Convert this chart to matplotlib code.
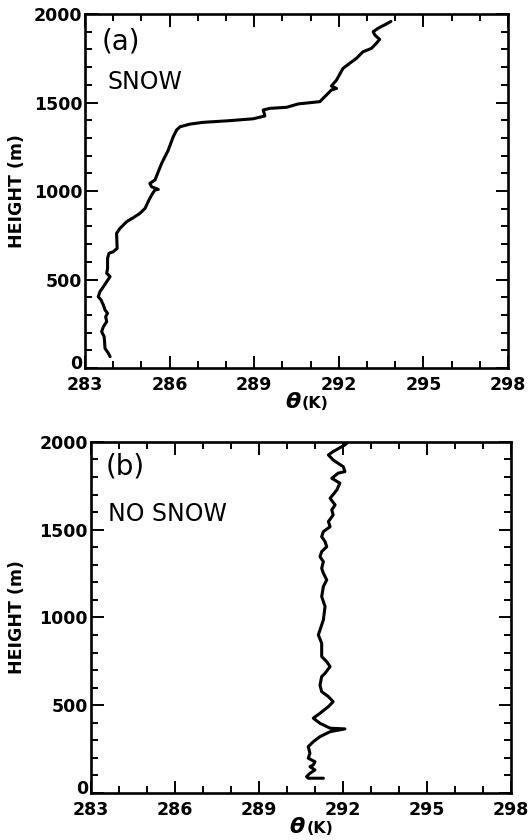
import matplotlib
matplotlib.use("Agg")
import matplotlib.pyplot as plt
from matplotlib.ticker import MultipleLocator
from matplotlib.transforms import ScaledTranslation

# Potential temperature profiles (K) against height (m)
theta_snow = [283.89, 283.83, 283.71, 283.68, 283.59, 283.65, 283.77, 283.73, 283.80, 283.71,
              283.65, 283.57, 283.47, 283.53, 283.65, 283.77, 283.89, 283.77, 283.80, 283.80,
              283.85, 284.00, 284.14, 284.12, 284.24, 284.48, 284.71, 284.95, 285.13, 285.24,
              285.36, 285.48, 285.60, 285.36, 285.30, 285.48, 285.72, 285.95, 286.13, 286.25,
              286.37, 286.72, 287.19, 288.08, 288.96, 289.38, 289.32, 289.56, 290.15, 290.56,
              291.33, 291.56, 291.74, 291.92, 291.74, 291.92, 292.15, 292.39, 292.63, 292.86,
              293.16, 293.33, 293.45, 293.28, 293.22, 293.39, 293.69, 293.85]
height_snow = [64, 83, 111, 177, 205, 233, 262, 290, 309, 328,
               356, 384, 403, 431, 459, 488, 516, 535, 563, 620,
               648, 657, 676, 761, 789, 827, 849, 874, 902, 940,
               977, 1006, 1009, 1024, 1043, 1062, 1157, 1230, 1307, 1345,
               1363, 1378, 1388, 1397, 1408, 1424, 1458, 1467, 1473, 1492,
               1505, 1542, 1571, 1580, 1593, 1627, 1693, 1722, 1750, 1787,
               1806, 1834, 1857, 1881, 1900, 1919, 1944, 1958]

theta_nosnow = [291.31, 290.77, 290.71, 290.83, 291.01, 290.83, 290.95, 291.01, 290.77, 290.83,
                290.77, 290.95, 291.19, 291.55, 292.08, 291.55, 291.19, 290.95, 291.19, 291.49,
                291.66, 291.49, 291.25, 291.19, 291.25, 291.37, 291.55, 291.43, 291.25, 291.25,
                291.13, 291.31, 291.37, 291.25, 291.31, 291.43, 291.31, 291.25, 291.31, 291.19,
                291.25, 291.43, 291.37, 291.25, 291.31, 291.55, 291.49, 291.66, 291.61, 291.73,
                291.55, 291.79, 291.90, 291.61, 291.84, 292.08, 292.02, 291.66, 291.49, 291.66,
                292.08, 292.20]
height_nosnow = [84, 84, 93, 112, 131, 150, 160, 178, 198, 226,
                 264, 292, 321, 349, 365, 369, 397, 426, 454, 492,
                 520, 549, 577, 615, 663, 682, 720, 748, 777, 853,
                 900, 986, 1062, 1119, 1176, 1214, 1252, 1280, 1318, 1346,
                 1375, 1403, 1432, 1460, 1489, 1517, 1546, 1584, 1613, 1641,
                 1679, 1726, 1765, 1793, 1822, 1831, 1859, 1897, 1926, 1945,
                 1983, 2001]

x_ticks = [283, 286, 289, 292, 295, 298]
y_ticks = [0, 500, 1000, 1500, 2000]
panel_labels = ["(a)", "(b)"]
panel_titles = ["SNOW", "NO SNOW"]

plt.rcParams["font.family"] = ["DejaVu Sans"]

fig = plt.figure(figsize=(5.28, 8.4), dpi=100)
ax_top = fig.add_axes([0.161, 0.5619, 0.801, 0.4214])
ax_bot = fig.add_axes([0.172, 0.0560, 0.795, 0.4179])

profiles = [(theta_snow, height_snow), (theta_nosnow, height_nosnow)]
label_pos = [((0.040, 0.962), (0.054, 0.842), -0.139),
             ((0.036, 0.970), (0.040, 0.830), -0.154)]

# nudge the "0" height label up so it clears the first temperature label
raise_zero = ScaledTranslation(0, 4 / 72, fig.dpi_scale_trans)

for ax, (th, hz), lab, title, pos in zip([ax_top, ax_bot], profiles, panel_labels,
                                         panel_titles, label_pos):
    ax.plot(th, hz, color="black", lw=2.2, solid_joinstyle="round", solid_capstyle="round")
    ax.set_xlim(283, 298)
    ax.set_ylim(0, 2000)
    ax.set_xticks(x_ticks)
    ax.set_yticks(y_ticks)
    ax.xaxis.set_minor_locator(MultipleLocator(1))
    ax.yaxis.set_minor_locator(MultipleLocator(100))
    ax.tick_params(which="both", direction="in", top=True, right=True, width=1.4,
                   labelsize=12.5, color="black")
    ax.tick_params(which="major", length=9)
    ax.tick_params(which="minor", length=5)
    ax.tick_params(axis="x", pad=6)
    ax.tick_params(axis="y", pad=2)
    for t in ax.get_xticklabels() + ax.get_yticklabels():
        t.set_fontweight("bold")
    zero_label = ax.yaxis.get_major_ticks()[0].label1
    zero_label.set_transform(zero_label.get_transform() + raise_zero)
    for sp in ax.spines.values():
        sp.set_linewidth(1.9)

    ax.set_ylabel("HEIGHT (m)", fontsize=12.5, fontweight="bold")
    ax.yaxis.set_label_coords(pos[2], 0.5)

    ax.text(pos[0][0], pos[0][1], lab, transform=ax.transAxes, fontsize=20,
            va="top", ha="left")
    ax.text(pos[1][0], pos[1][1], title, transform=ax.transAxes, fontsize=17,
            va="top", ha="left")

    ax.annotate("θ", xy=(0.5, 0), xycoords="axes fraction", xytext=(3, -17),
                textcoords="offset points", ha="right", va="top", fontsize=16,
                fontweight="bold", fontstyle="italic")
    ax.annotate("(K)", xy=(0.5, 0), xycoords="axes fraction", xytext=(4, -20),
                textcoords="offset points", ha="left", va="top", fontsize=11.5,
                fontweight="bold")

fig.savefig("out.png", dpi=100)
